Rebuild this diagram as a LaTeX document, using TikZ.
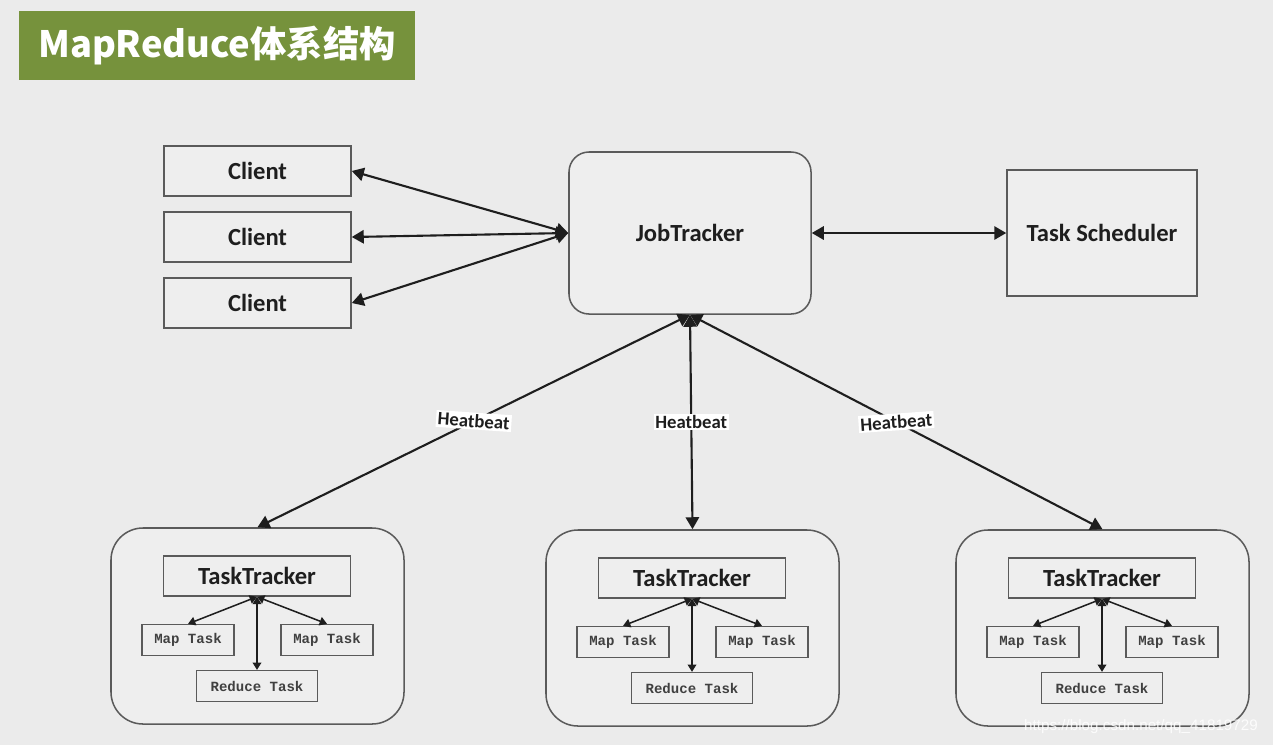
\documentclass[tikz,border=0pt]{standalone}
\usepackage{fontspec}
\setmainfont{Carlito}
\setmonofont{Liberation Mono}
\newfontfamily\cjk{Noto Sans CJK SC}
\newfontfamily\wmfont{Liberation Sans}
\usetikzlibrary{arrows.meta}
\definecolor{bggray}{HTML}{EBEBEB}
\definecolor{boxgray}{HTML}{EEEEEE}
\definecolor{titlegreen}{HTML}{76923C}
\definecolor{edgegray}{HTML}{5A5A5A}
\definecolor{inkgray}{HTML}{1E1E1E}
\tikzset{
    bigbox/.style={draw=edgegray,line width=1.3pt,fill=boxgray,text=inkgray,font=\bfseries\fontsize{21}{21}\selectfont},
    taskbox/.style={draw=edgegray,line width=1.1pt,fill=boxgray,text=inkgray!85,minimum height=0.93cm,font=\ttfamily\bfseries\fontsize{12}{12}\selectfont},
    beatlabel/.style={fill=white,inner sep=1.5pt,text=inkgray,font=\bfseries\fontsize{16}{16}\selectfont}
}
\begin{document}
\begin{tikzpicture}[x=0.03cm,y=-0.03cm]
    \fill[bggray] (0,0) rectangle (1273,745);
    \useasboundingbox (0,0) rectangle (1273,745);

    % title
    \node[fill=titlegreen,minimum width=11.88cm,minimum height=2.07cm,inner sep=0pt,text=white,font=\cjk\bfseries\fontsize{31}{31}\selectfont] (title) at (217,45.5) {MapReduce体系结构};

    \begin{scope}[every node/.style={bigbox,minimum width=5.61cm,minimum height=1.5cm}]
        \node (c1) at (257.5,171) {Client};
        \node (c2) at (257.5,237) {Client};
        \node (c3) at (257.5,303) {Client};
        \node[rounded corners=0.6cm,minimum width=7.26cm,minimum height=4.86cm] (jt) at (690,233) {JobTracker};
        \node[minimum width=5.7cm,minimum height=3.78cm] (ts) at (1102,233) {Task Scheduler};
    \end{scope}

    % task trackers
    \foreach \g/\x/\y in {1/257/576,2/692/578,3/1102/578} {
        \node[draw=edgegray,line width=1.3pt,fill=boxgray,rounded corners=0.96cm,minimum width=8.79cm,minimum height=5.88cm] (grp\g) at (\x+0.5,\y+50) {};
        \node[bigbox,minimum width=5.61cm,minimum height=1.2cm] (tt\g) at (\x,\y) {TaskTracker};
        \node[taskbox,minimum width=2.76cm] (mapa\g) at (\x-69,\y+64) {Map Task};
        \node[taskbox,minimum width=2.76cm] (mapb\g) at (\x+70,\y+64) {Map Task};
        \node[taskbox,minimum width=3.63cm] (red\g) at (\x,\y+110) {Reduce Task};
        \begin{scope}[line width=1.3pt,draw=inkgray,{Triangle[length=2.2mm,width=2.6mm]}-{Triangle[length=2.2mm,width=2.6mm]}]
            \draw (tt\g.south)--(mapa\g.north);
            \draw (tt\g.south)--(mapb\g.north);
            \draw (tt\g.south)--(red\g.north);
        \end{scope}
    }

    \begin{scope}[line width=1.8pt,draw=inkgray,{Triangle[length=3.6mm,width=4mm]}-{Triangle[length=3.6mm,width=4mm]}]
        \foreach \n in {1,2,3} {\draw (jt.west)--(c\n.east);}
        \draw (jt.east)--(ts.west);
        \draw (jt.south)--(grp1.north) node[midway,beatlabel,rotate=-4] {Heatbeat};
        \draw (jt.south)--(grp2.north) node[midway,beatlabel] {Heatbeat};
        \draw (jt.south)--(grp3.north) node[midway,beatlabel,rotate=4] {Heatbeat};
    \end{scope}

    \node[text=white,opacity=0.85,font=\wmfont\fontsize{13}{13}\selectfont] (mark) at (1141,727) {https://blog.csdn.net/qq\_41819729};
\end{tikzpicture}
\end{document}
